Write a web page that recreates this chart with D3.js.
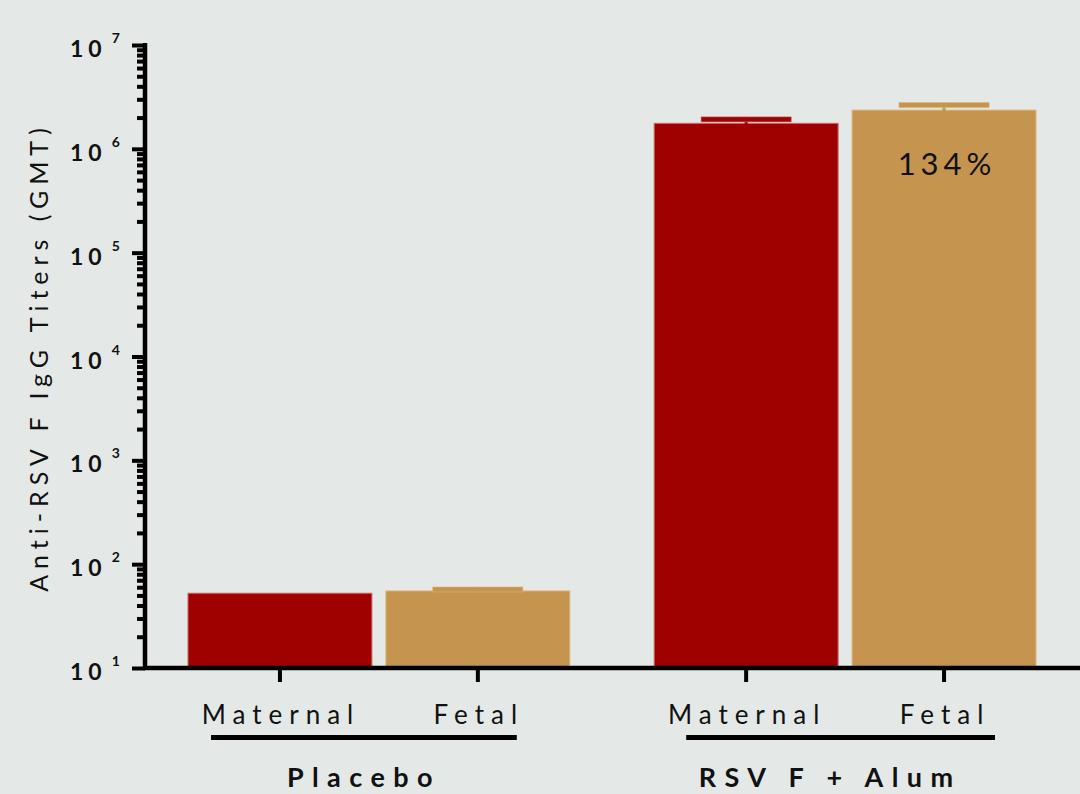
<!DOCTYPE html>
<html>
<head>
<meta charset="utf-8">
<script src="https://cdn.jsdelivr.net/npm/d3@7"></script>
<style>
  html, body { margin: 0; padding: 0; background: #e4e9e7; }
  svg { display: block; }
  text { font-family: Lato, "Open Sans", sans-serif; fill: #111; }
</style>
</head>
<body>
<svg id="chart" width="1080" height="794"></svg>
<script>
// Anti-RSV F IgG titers (GMT), maternal vs fetal, by treatment group
const groups = ["Placebo", "RSV F + Alum"];
const subgroups = ["Maternal", "Fetal"];
const gmt = [
  [52.5, 55.2],       // Placebo
  [1.76e6, 2.36e6]    // RSV F + Alum
];
const gmtUpper = [
  [52.5, 60.3],
  [2.03e6, 2.79e6]
];
const yExponents = [1, 2, 3, 4, 5, 6, 7];
const colors = { Maternal: "#9f0000", Fetal: "#c5944f" };
const edgeColors = { Maternal: "#c86a6a", Fetal: "#dcb27a" };

const svg = d3.select("#chart");

const y = d3.scaleLog().domain([10, 1e7]).range([668, 45]);
const xGroup = d3.scaleBand().domain(groups).range([188, 1036]).paddingInner(0.181).paddingOuter(0);
const xSub = d3.scaleBand().domain(subgroups).range([0, xGroup.bandwidth()]).paddingInner(0.0707).paddingOuter(0);

// Bars
const barData = [];
groups.forEach((g, gi) => subgroups.forEach((s, si) => {
  barData.push({ group: g, sub: s, value: gmt[gi][si], upper: gmtUpper[gi][si] });
}));

const bars = svg.append("g");
bars.selectAll("rect.bar").data(barData).join("rect")
  .attr("class", "bar")
  .attr("x", d => xGroup(d.group) + xSub(d.sub))
  .attr("width", xSub.bandwidth())
  .attr("y", d => y(d.value))
  .attr("height", d => y(10) - y(d.value))
  .attr("fill", d => colors[d.sub])
  .attr("stroke", d => edgeColors[d.sub])
  .attr("stroke-width", 1);

// Error bars (upper SEM), same colour as the bar
const capW = xSub.bandwidth() * 0.49;
const eb = svg.append("g");
barData.filter(d => d.upper > d.value).forEach(d => {
  const cx = xGroup(d.group) + xSub(d.sub) + xSub.bandwidth() / 2;
  eb.append("rect")
    .attr("x", cx - 1.5).attr("width", 3)
    .attr("y", y(d.upper)).attr("height", y(d.value) - y(d.upper) + 1)
    .attr("fill", colors[d.sub]);
  eb.append("rect")
    .attr("x", cx - capW / 2).attr("width", capW)
    .attr("y", y(d.upper)).attr("height", 5)
    .attr("fill", colors[d.sub])
    .attr("stroke", edgeColors[d.sub]).attr("stroke-width", 0.6);
});

// Percentage label: fetal relative to maternal
const pct = Math.round(gmt[1][1] / gmt[1][0] * 100);
svg.append("text")
  .attr("x", xGroup(groups[1]) + xSub("Fetal") + xSub.bandwidth() / 2 + 3)
  .attr("y", 175)
  .attr("text-anchor", "middle")
  .attr("font-size", 31)
  .attr("letter-spacing", 5)
  .text(pct + "%");

// Y axis: major decades + minor ticks
const majorVals = yExponents.map(e => Math.pow(10, e));
const minorVals = [];
yExponents.slice(0, -1).forEach(e => {
  for (let k = 2; k <= 9; k++) minorVals.push(k * Math.pow(10, e));
});

const yMinor = svg.append("g").attr("transform", "translate(145,0)")
  .call(d3.axisLeft(y).tickValues(minorVals).tickSize(8).tickFormat(""));
const yMajor = svg.append("g").attr("transform", "translate(145,0)")
  .call(d3.axisLeft(y).tickValues(majorVals).tickSize(13).tickFormat(""));
[yMinor, yMajor].forEach(a => {
  a.select(".domain").remove();
  a.selectAll(".tick line").attr("stroke", "#000").attr("stroke-width", 4);
});
svg.append("line").attr("x1", 145).attr("x2", 145).attr("y1", y(1e7) - 2).attr("y2", y(10) + 2)
  .attr("stroke", "#000").attr("stroke-width", 4.5);

// Y tick labels as 10 with superscript exponent
const yLab = svg.append("g");
yExponents.forEach(e => {
  const t = yLab.append("text")
    .attr("x", 70).attr("y", y(Math.pow(10, e)) + 12)
    .attr("font-size", 23).attr("font-weight", 700).attr("letter-spacing", 5);
  t.append("tspan").text("10");
  t.append("tspan").attr("dx", 5).attr("dy", -14).attr("font-size", 14).attr("font-weight", 700).text(String(e));
});

// Y axis title
svg.append("text")
  .attr("transform", "translate(48," + 357 + ") rotate(-90)")
  .attr("text-anchor", "middle")
  .attr("font-size", 25)
  .attr("letter-spacing", 6)
  .text("Anti-RSV F IgG Titers (GMT)");

// X axis line and ticks
svg.append("line").attr("x1", 143).attr("x2", 1080).attr("y1", y(10)).attr("y2", y(10))
  .attr("stroke", "#000").attr("stroke-width", 4.5);
const xAxisG = svg.append("g");
barData.forEach(d => {
  const cx = xGroup(d.group) + xSub(d.sub) + xSub.bandwidth() / 2;
  xAxisG.append("line").attr("x1", cx).attr("x2", cx).attr("y1", y(10)).attr("y2", y(10) + 14)
    .attr("stroke", "#000").attr("stroke-width", 4);
  xAxisG.append("text")
    .attr("x", cx + 1).attr("y", 724)
    .attr("text-anchor", "middle")
    .attr("font-size", 26)
    .attr("letter-spacing", 7)
    .text(d.sub);
});

// Group brackets (under the category labels) and group names
const bracketInset = [[23, 53], [32, 41]];
groups.forEach((g, gi) => {
  const x0 = xGroup(g);
  const x1 = x0 + xGroup.bandwidth();
  svg.append("line")
    .attr("x1", x0 + bracketInset[gi][0]).attr("x2", x1 - bracketInset[gi][1])
    .attr("y1", 737.5).attr("y2", 737.5)
    .attr("stroke", "#000").attr("stroke-width", 5);
  svg.append("text")
    .attr("x", (x0 + x1) / 2 - 15).attr("y", 787)
    .attr("text-anchor", "middle")
    .attr("font-size", 27)
    .attr("font-weight", 700)
    .attr("letter-spacing", 8.4)
    .text(g);
});
</script>
</body>
</html>
